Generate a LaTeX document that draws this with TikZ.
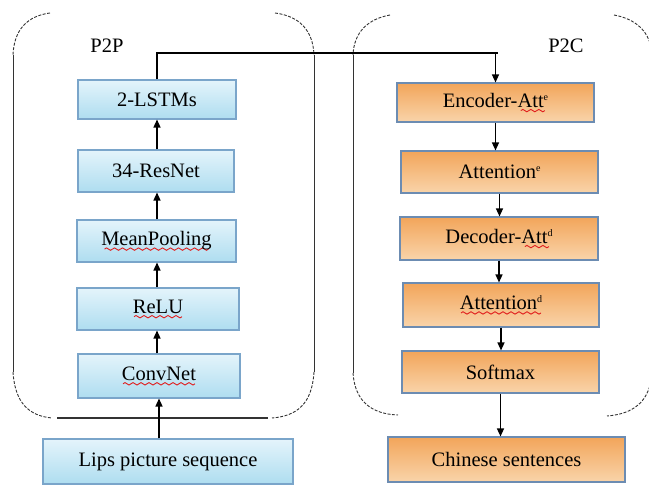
\documentclass[tikz,border=0pt]{standalone}
\usepackage{fontspec}
\setmainfont{Liberation Serif}
\newfontfamily\boxfont{Liberation Serif}
\usetikzlibrary{arrows.meta}
\definecolor{bluetop}{HTML}{E4F4FB}
\definecolor{bluebot}{HTML}{AEDDF0}
\definecolor{blueedge}{HTML}{7AA5CA}
\definecolor{orgtop}{HTML}{F2A55A}
\definecolor{orgbot}{HTML}{F9D4AA}
\definecolor{orgedge}{HTML}{6C8CB2}
\definecolor{spell}{HTML}{E01E1E}
\definecolor{frame}{HTML}{333333}
% one period of the red wavy underline, tiled under marked words
\newsavebox\wavebox
\newcommand\wavy[1]{\setbox0\hbox{#1}\rlap{\lower5pt\hbox to\wd0{\cleaders\copy\wavebox\hfil}}\box0}
% small raised index letter
\newcommand\idx[1]{\raisebox{7pt}{\fontsize{10}{10}\selectfont #1}}
\tikzset{
  lbl/.style={font=\boxfont\fontsize{20.5}{24}\selectfont, inner sep=0pt},
  bluebox/.style={lbl, rectangle, draw=blueedge, line width=1.1pt,
    top color=bluetop, bottom color=bluebot},
  orgbox/.style={lbl, rectangle, draw=orgedge, line width=1.1pt,
    top color=orgtop, bottom color=orgbot},
  flow/.style={line width=1.3pt, -{Triangle[length=8pt,width=7pt]}},
  side/.style={frame, line width=0.9pt},
  corner/.style={frame, line width=0.9pt, dash pattern=on 3pt off 1.5pt},
}
\begin{document}
\sbox\wavebox{\pgfpicture
  \pgfpathrectangle{\pgfpoint{0pt}{-1.5pt}}{\pgfpoint{8pt}{3pt}}\pgfusepath{use as bounding box}%
  \pgfsetlinewidth{0.9pt}\pgfsetstrokecolor{spell}%
  \pgfpathmoveto{\pgfpointorigin}%
  \pgfpathsine{\pgfpoint{2pt}{1.2pt}}%
  \pgfpathcosine{\pgfpoint{2pt}{-1.2pt}}%
  \pgfpathsine{\pgfpoint{2pt}{-1.2pt}}%
  \pgfpathcosine{\pgfpoint{2pt}{1.2pt}}%
  \pgfusepath{stroke}%
\endpgfpicture}%
\begin{tikzpicture}[x=1pt, y=-1pt]
\useasboundingbox (0,0) rectangle (649,486);

% ---- P2P frame ----
\draw[corner] (50,13) .. controls (27,16) and (14,30) .. (13,55);
\draw[side] (13,55) -- (13,372);
\draw[corner] (13,372) .. controls (15,404) and (30,416) .. (52,418);
\draw[corner] (275,13) .. controls (299,16) and (313,30) .. (314,55);
\draw[side] (314,55) -- (314,372);
\draw[corner] (314,372) .. controls (312,404) and (297,416) .. (272,418);
\draw[frame, line width=2.6pt] (57,418) -- (268,418);
\node[lbl] (p2p) at (107,46) {P2P};

% ---- P2C frame ----
\draw[corner] (390,15) .. controls (368,19) and (354,32) .. (353,55);
\draw[side] (353,55) -- (353,373);
\draw[corner] (353,373) .. controls (355,402) and (372,414) .. (398,415);
\draw[corner] (614,15) .. controls (636,19) and (651,32) .. (652,55);
\draw[side] (652,55) -- (652,373);
\draw[corner] (652,373) .. controls (650,402) and (633,414) .. (607,416);
\node[lbl] (p2c) at (566,46) {P2C};

% ---- P2P stack ----
\node[bluebox, minimum width=158pt, minimum height=39pt] (lstm) at (157,99.5) {2-LSTMs};
\node[bluebox, minimum width=156pt, minimum height=42pt] (resnet) at (156,171) {34-ResNet};
\node[bluebox, minimum width=159pt, minimum height=42pt] (pool) at (156.5,241) {\wavy{MeanPooling}};
\node[bluebox, minimum width=162pt, minimum height=42pt] (relu) at (158,309) {\wavy{ReLU}};
\node[bluebox, minimum width=162pt, minimum height=44pt] (conv) at (159,376) {\wavy{ConvNet}};
\node[bluebox, minimum width=250pt, minimum height=45pt] (lips) at (168,461.5) {Lips picture sequence};

% ---- P2C stack ----
\node[orgbox, minimum width=197pt, minimum height=39pt] (enc) at (495.5,102.5) {Encoder-\wavy{Att\idx{e}}};
\node[orgbox, minimum width=197pt, minimum height=42pt] (atte) at (499.5,172) {Attention\idx{e}};
\node[orgbox, minimum width=198pt, minimum height=43pt] (dec) at (499,238.5) {Decoder-\wavy{Att\idx{d}}};
\node[orgbox, minimum width=196pt, minimum height=44pt] (attd) at (501,305) {\wavy{Attention\idx{d}}};
\node[orgbox, minimum width=197pt, minimum height=42pt] (soft) at (500.5,372) {Softmax};
\node[orgbox, minimum width=237pt, minimum height=45pt] (chn) at (506.5,459.5) {Chinese sentences};

% ---- upward flow in P2P ----
\draw[flow] (lips.north -| conv.south) -- (conv.south);
\draw[flow] (conv.north -| 157,0) -- (relu.south -| 157,0);
\draw[flow] (relu.north -| 157,0) -- (pool.south -| 157,0);
\draw[flow] (pool.north -| 157,0) -- (resnet.south -| 157,0);
\draw[flow] (resnet.north -| 157,0) -- (lstm.south -| 157,0);

% ---- link from P2P to P2C ----
\coordinate (bus) at (157,53);
\coordinate (busend) at (498,53);
\draw[line width=2.2pt] (lstm.north) -- (bus) -- (busend);
\draw[flow] (enc.north |- busend) -- (enc.north);

% ---- downward flow in P2C ----
\draw[flow] (enc.south) -- (enc.south |- atte.north);
\draw[flow] (atte.south) -- (atte.south |- dec.north);
\draw[flow] (dec.south) -- (dec.south |- attd.north);
\draw[flow] (attd.south) -- (attd.south |- soft.north);
\draw[flow] (soft.south) -- (soft.south |- chn.north);
\end{tikzpicture}
\end{document}
